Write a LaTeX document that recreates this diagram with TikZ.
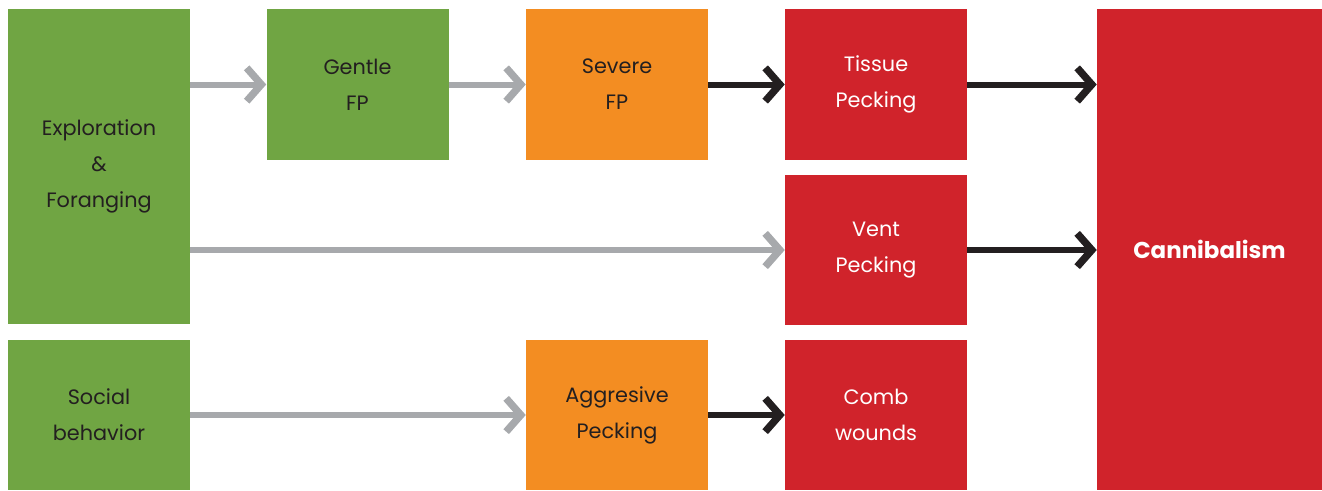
\documentclass[tikz,border=0pt]{standalone}
\usepackage{fontspec}
\setmainfont{Poppins}
\usetikzlibrary{arrows.meta}
\definecolor{boxgreen}{HTML}{70A543}
\definecolor{boxorange}{HTML}{F38D22}
\definecolor{boxred}{HTML}{D0232B}
\definecolor{arrgray}{HTML}{A7A9AC}
\definecolor{arrblack}{HTML}{231F20}
\tikzset{
  box/.style={rectangle, inner sep=0pt, align=center, font=\fontsize{15.6}{27}\selectfont,
    minimum width=136.5pt},
  greenbox/.style={box, fill=boxgreen, text=arrblack},
  orangebox/.style={box, fill=boxorange, text=arrblack},
  redbox/.style={box, fill=boxred, text=white},
  flow/.style={line width=4.5pt, -{Straight Barb[length=11pt, width=25pt, line width=5.5pt]}},
  grayflow/.style={flow, arrgray},
  blackflow/.style={flow, arrblack},
}
\begin{document}
\begin{tikzpicture}[x=0.75pt, y=-0.75pt]
  \useasboundingbox (0,0) rectangle (1322,490);
  % boxes
  \node[greenbox, minimum height=236.25pt] (explore) at (99,166.5) {Exploration\\\&\\Foranging};
  \node[greenbox, minimum height=113.25pt] (gentle) at (357.5,84.5) {Gentle\\FP};
  \node[orangebox, minimum height=113.25pt] (severe) at (617,84.5) {Severe\\FP};
  \node[redbox, minimum height=113.25pt] (tissue) at (876,84.5) {Tissue\\Pecking};
  \node[redbox, minimum height=112.5pt] (vent) at (876,250) {Vent\\Pecking};
  \node[greenbox, minimum height=112.5pt] (social) at (99,415) {Social\\behavior};
  \node[orangebox, minimum height=112.5pt] (aggr) at (617,415) {Aggresive\\Pecking};
  \node[redbox, minimum height=112.5pt] (comb) at (876,415) {Comb\\wounds};
  \node[redbox, minimum width=168.75pt, minimum height=360.75pt, font=\fontsize{17.2}{27}\bfseries] (cannib) at (1209.5,249.5) {Cannibalism};
  % arrows
  \draw[grayflow] (explore.east |- gentle.west) -- (gentle.west);
  \draw[grayflow] (gentle.east) -- (severe.west);
  \draw[blackflow] (severe.east) -- (tissue.west);
  \draw[blackflow] (tissue.east) -- (tissue.east -| cannib.west);
  \draw[grayflow] (explore.east |- vent.west) -- (vent.west);
  \draw[blackflow] (vent.east) -- (vent.east -| cannib.west);
  \draw[grayflow] (social.east) -- (aggr.west);
  \draw[blackflow] (aggr.east) -- (comb.west);
\end{tikzpicture}
\end{document}
